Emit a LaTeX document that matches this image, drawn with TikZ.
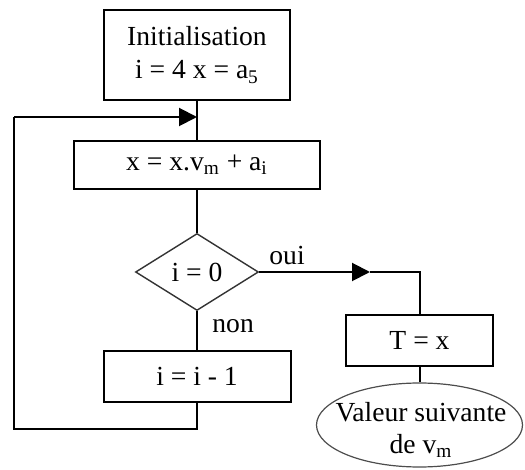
\documentclass[tikz,border=0pt]{standalone}
\usepackage{fontspec}
\setmainfont{Liberation Serif}
\usetikzlibrary{shapes.geometric,arrows.meta}
\begin{document}
\begin{tikzpicture}[x=0.5pt,y=-0.5pt,
  font=\fontsize{13.8}{16.5}\selectfont,
  box/.style={draw,line width=1pt,inner sep=0pt,align=center},
  conn/.style={line width=1pt},
  tip/.style={-{Triangle[length=9pt,width=9pt]}}]
\useasboundingbox (0,0) rectangle (525,470);
\node[box,minimum width=93pt,minimum height=45pt] (init) at (197,55)
  {Initialisation\\i = 4 x = a\textsubscript{5}};
\node[box,minimum width=123pt,minimum height=24pt] (calc) at (197,165)
  {x = x.v\textsubscript{m} + a\textsubscript{i}};
\node[draw,diamond,line width=0.7pt,draw=black!80,inner sep=0pt,aspect=1.6,
  minimum width=61.5pt,minimum height=38.5pt] (test) at (197,272) {i = 0};
\node[box,minimum width=93.5pt,minimum height=25.5pt] (dec) at (197,376.5)
  {i = i - 1};
\node[box,minimum width=73.5pt,minimum height=25.5pt] (res) at (419.5,340.5)
  {T = x};
\node[draw,ellipse,line width=0.6pt,draw=black!70,inner sep=0pt,
  minimum width=103pt,minimum height=42pt] (next) at (419.5,425) {};
\node[align=center,inner sep=0pt,font=\fontsize{13.8}{16}\selectfont]
  (nexttext) at (421,430) {Valeur suivante\\de v\textsubscript{m}};
\coordinate (loopin) at (197,117);
\coordinate (lb) at (197,429);
\coordinate (lbl) at (14,429);
\coordinate (ltl) at (14,117);
\coordinate (ouitip) at (370,272);
\coordinate (ouicorner) at (419.5,272);
% connectors
\draw[conn] (init.south) -- (calc.north);
\draw[conn] (calc.south) -- (test.north);
\draw[conn] (test.south) -- (dec.north);
\draw[conn] (dec.south) -- (lb) -- (lbl) -- (ltl);
\draw[conn,tip] (ltl) -- (loopin);
\draw[conn,tip] (test.east) -- (ouitip);
\draw[conn] (ouitip) -- (ouicorner) -- (res.north);
\draw[conn] (res.south) -- (next.north);
% labels
\node[anchor=base west,inner sep=0pt] (oui) at (269,265) {oui};
\node[anchor=base west,inner sep=0pt] (non) at (212,333) {non};
\end{tikzpicture}
\end{document}
